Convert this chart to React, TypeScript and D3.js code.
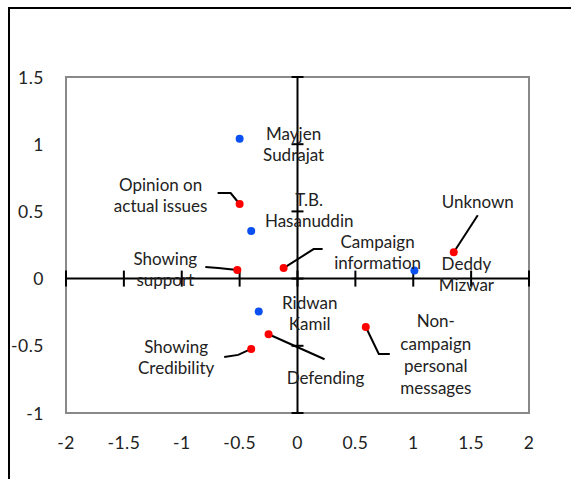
import * as d3 from 'd3';
import React from 'react';

// axis ticks
const xTicks = [-2, -1.5, -1, -0.5, 0, 0.5, 1, 1.5, 2];
const yTicks = [-1, -0.5, 0, 0.5, 1, 1.5];

// candidates (blue)
const candNames = ['Mayjen Sudrajat', 'T.B. Hasanuddin', 'Deddy Mizwar', 'Ridwan Kamil'];
const candX = [-0.5, -0.4, 1.01, -0.335];
const candY = [1.04, 0.355, 0.06, -0.245];

// message types (red)
const msgNames = [
  'Opinion on actual issues',
  'Showing support',
  'Campaign information',
  'Unknown',
  'Showing Credibility',
  'Defending',
  'Non-campaign personal messages'
];
const msgX = [-0.5, -0.52, -0.12, 1.35, -0.4, -0.25, 0.59];
const msgY = [0.555, 0.064, 0.078, 0.196, -0.523, -0.414, -0.36];

// label placement relative to the point: lines, offset of first line, leader path
const labelLayout: Record<string, { lines: string[]; dx: number; dy: number; lh?: number; leader?: number[][] }> = {
  'Mayjen Sudrajat': { lines: ['Mayjen', 'Sudrajat'], dx: 54, dy: -5 },
  'T.B. Hasanuddin': { lines: ['T.B.', 'Hasanuddin'], dx: 58, dy: -31 },
  'Deddy Mizwar': { lines: ['Deddy', 'Mizwar'], dx: 52, dy: -7 },
  'Ridwan Kamil': { lines: ['Ridwan', 'Kamil'], dx: 51, dy: -9 },
  'Opinion on actual issues': { lines: ['Opinion on', 'actual issues'], dx: -79, dy: -20, leader: [[-22, -11], [-9, -11], [0, 0]] },
  'Showing support': { lines: ['Showing', 'support'], dx: -72, dy: -11, leader: [[-32, -3], [-19, -2], [0, 0]] },
  'Campaign information': { lines: ['Campaign', 'information'], dx: 94, dy: -27, leader: [[39, -19], [30, -19], [0, 0]] },
  Unknown: { lines: ['Unknown'], dx: 24, dy: -51, leader: [[24, -37], [0, 0]] },
  'Showing Credibility': { lines: ['Showing', 'Credibility'], dx: -75, dy: -2, leader: [[-27, 8], [-13, 6], [0, 0]] },
  Defending: { lines: ['Defending'], dx: 57, dy: 43, leader: [[0, 0], [56, 25]] },
  'Non-campaign personal messages': {
    lines: ['Non-', 'campaign', 'personal', 'messages'],
    dx: 70,
    dy: -6,
    lh: 22.3,
    leader: [[0, 0], [13, 27], [24, 27]]
  }
};

const W = 571;
const H = 479;
const font = 'Lato, "Open Sans", sans-serif';

export default function App() {
  const x = d3.scaleLinear().domain([-2, 2]).range([66, 529]);
  const y = d3.scaleLinear().domain([-1, 1.5]).range([413, 77]);
  const line = d3.line();

  const points = [
    ...candNames.map((n, i) => ({ name: n, px: x(candX[i]), py: y(candY[i]), color: '#0a4ff0' })),
    ...msgNames.map((n, i) => ({ name: n, px: x(msgX[i]), py: y(msgY[i]), color: '#ff0000' }))
  ];

  return (
    <svg width={W} height={H} style={{ position: 'absolute', left: 0, top: 0, background: '#fff' }} fontFamily={font}>
      {/* outer frame */}
      <rect x={9} y={8} width={600} height={520} fill="none" stroke="#000" strokeWidth={2} />
      {/* plot area */}
      <rect x={x(-2)} y={y(1.5)} width={x(2) - x(-2)} height={y(-1) - y(1.5)} fill="none" stroke="#898989" strokeWidth={2} />

      {/* crossing axes */}
      <line x1={x(-2)} x2={x(2)} y1={y(0)} y2={y(0)} stroke="#000" strokeWidth={2} />
      <line x1={x(0)} x2={x(0)} y1={y(1.5)} y2={y(-1)} stroke="#000" strokeWidth={2} />
      {xTicks.map((t) => (
        <line key={'xt' + t} x1={x(t)} x2={x(t)} y1={y(0) - 8} y2={y(0) + 8} stroke="#000" strokeWidth={2} />
      ))}
      {yTicks.map((t) => (
        <line key={'yt' + t} x1={x(0) - 6} x2={x(0) + 6} y1={y(t)} y2={y(t)} stroke="#000" strokeWidth={2} />
      ))}

      {/* tick labels */}
      {xTicks.map((t) => (
        <text key={'xl' + t} x={x(t)} y={442} textAnchor="middle" dominantBaseline="central" fontSize={17.5} letterSpacing={0.5} fill="#222">
          {t}
        </text>
      ))}
      {yTicks.map((t) => (
        <text key={'yl' + t} x={44} y={y(t)} textAnchor="end" dominantBaseline="central" fontSize={17.5} letterSpacing={0.5} fill="#222">
          {t}
        </text>
      ))}

      {/* leaders */}
      {points.map((p) => {
        const l = labelLayout[p.name];
        if (!l.leader) return null;
        return (
          <path
            key={'ld' + p.name}
            d={line(l.leader.map(([a, b]) => [p.px + a, p.py + b])) || ''}
            fill="none"
            stroke="#000"
            strokeWidth={2}
          />
        );
      })}

      {/* points */}
      {points.map((p) => (
        <circle key={'pt' + p.name} cx={p.px} cy={p.py} r={4} fill={p.color} />
      ))}

      {/* labels */}
      {points.map((p) => {
        const l = labelLayout[p.name];
        const lh = l.lh || 21;
        return (
          <text key={'lb' + p.name} fontSize={17} fill="#222" textAnchor="middle">
            {l.lines.map((s, i) => (
              <tspan key={i} x={p.px + l.dx} y={p.py + l.dy + i * lh} dominantBaseline="central">
                {s}
              </tspan>
            ))}
          </text>
        );
      })}
    </svg>
  );
}
